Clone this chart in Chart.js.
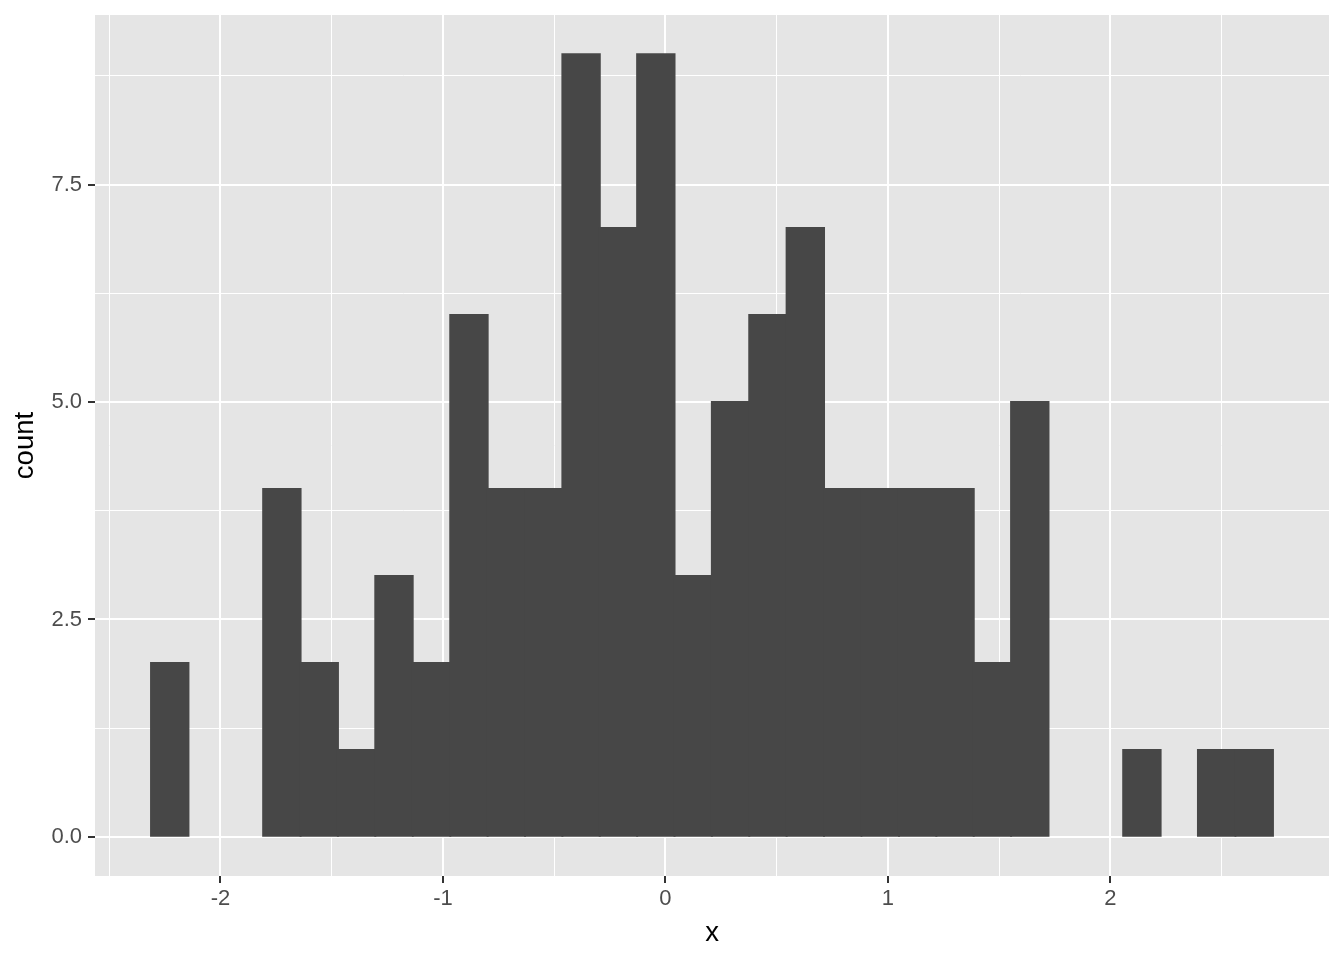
<!DOCTYPE html>
<html>
<head>
<meta charset="utf-8">
<script src="https://cdn.jsdelivr.net/npm/chart.js@4"></script>
<style>
  html, body { margin: 0; padding: 0; background: #ffffff; }
  #wrap { width: 1344px; height: 960px; }
</style>
</head>
<body>
<div id="wrap"><canvas id="c" width="1344" height="960"></canvas></div>
<script>
// Bin centres (x) and counts
const binCenters = [-2.228, -2.060, -1.892, -1.724, -1.556, -1.388, -1.220, -1.051, -0.883, -0.715,
                    -0.547, -0.379, -0.211, -0.043, 0.125, 0.293, 0.461, 0.629, 0.797, 0.966,
                    1.134, 1.302, 1.470, 1.638, 1.806, 1.974, 2.142, 2.310, 2.478, 2.647];
const counts = [2, 0, 0, 4, 2, 1, 3, 2, 6, 4,
                4, 9, 7, 9, 3, 5, 6, 7, 4, 4,
                4, 4, 2, 5, 0, 0, 1, 0, 1, 1];
const xMajorTicks = [-2, -1, 0, 1, 2];
const xMinorTicks = [-2.5, -1.5, -0.5, 0.5, 1.5, 2.5];
const yMajorTicks = [0, 2.5, 5, 7.5];
const yMinorTicks = [1.25, 3.75, 6.25, 8.75];
const xLimits = [-2.564, 2.983];
const yLimits = [-0.45, 9.45];

const panelBg = {
  id: 'panelBg',
  beforeDraw(chart) {
    const a = chart.chartArea, ctx = chart.ctx;
    ctx.save();
    ctx.fillStyle = '#E5E5E5';
    ctx.fillRect(a.left, a.top, a.right - a.left, a.bottom - a.top);
    ctx.restore();
  }
};

function isMajor(list, v) { return list.some(t => Math.abs(t - v) < 1e-9); }
function tickVal(ctx) { return ctx && ctx.tick ? ctx.tick.value : NaN; }

const FONT = 'Liberation Sans, Arial, Helvetica, sans-serif';

new Chart(document.getElementById('c'), {
  type: 'bar',
  data: {
    datasets: [{
      data: binCenters.map((x, i) => ({ x: x, y: counts[i] })),
      backgroundColor: ctx => (ctx.raw && ctx.raw.y > 0) ? '#474747' : 'rgba(0,0,0,0)',
      borderWidth: 0,
      inflateAmount: 1,
      barPercentage: 1.0,
      categoryPercentage: 1.0,
      grouped: false
    }]
  },
  plugins: [panelBg],
  options: {
    responsive: false,
    animation: false,
    layout: { padding: { top: 15, right: 15, left: 0, bottom: 0 } },
    plugins: { legend: { display: false }, tooltip: { enabled: false } },
    scales: {
      x: {
        type: 'linear',
        offset: false,
        min: xLimits[0],
        max: xLimits[1],
        afterBuildTicks(scale) {
          scale.ticks = xMinorTicks.concat(xMajorTicks).sort((a, b) => a - b).map(v => ({ value: v }));
        },
        afterFit(scale) { scale.height = 84; scale.paddingLeft = 0; scale.paddingRight = 0; },
        border: { display: false },
        grid: {
          offset: false,
          color: '#FFFFFF',
          lineWidth: ctx => isMajor(xMajorTicks, tickVal(ctx)) ? 2 : 1,
          tickColor: ctx => isMajor(xMajorTicks, tickVal(ctx)) ? '#333333' : 'rgba(0,0,0,0)',
          tickWidth: 2,
          tickLength: 7,
          drawTicks: true
        },
        ticks: {
          autoSkip: false,
          maxRotation: 0,
          padding: 3,
          color: '#4D4D4D',
          font: { family: FONT, size: 22 },
          callback: v => isMajor(xMajorTicks, v) ? String(v) : ''
        },
        title: {
          display: true,
          text: 'x',
          color: '#000000',
          font: { family: FONT, size: 27.5 },
          padding: { top: 0, bottom: 10.5 }
        }
      },
      y: {
        type: 'linear',
        min: yLimits[0],
        max: yLimits[1],
        afterBuildTicks(scale) {
          scale.ticks = yMinorTicks.concat(yMajorTicks).sort((a, b) => a - b).map(v => ({ value: v }));
        },
        afterFit(scale) { scale.width = 95; scale.paddingTop = 0; scale.paddingBottom = 0; },
        border: { display: false },
        grid: {
          color: '#FFFFFF',
          lineWidth: ctx => isMajor(yMajorTicks, tickVal(ctx)) ? 2 : 1,
          tickColor: ctx => isMajor(yMajorTicks, tickVal(ctx)) ? '#333333' : 'rgba(0,0,0,0)',
          tickWidth: 2,
          tickLength: 7,
          drawTicks: true
        },
        ticks: {
          autoSkip: false,
          padding: 6,
          color: '#4D4D4D',
          font: { family: FONT, size: 22 },
          callback: v => isMajor(yMajorTicks, v) ? v.toFixed(1) : ''
        },
        title: {
          display: true,
          text: 'count',
          color: '#000000',
          font: { family: FONT, size: 27.5 },
          padding: { top: 9, bottom: 0 }
        }
      }
    }
  }
});
</script>
</body>
</html>
